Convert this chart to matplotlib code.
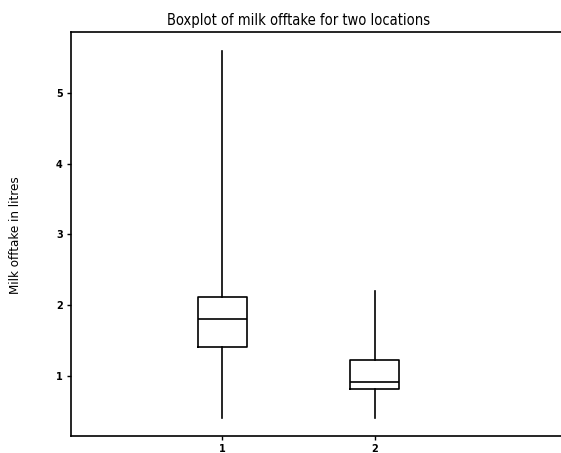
import matplotlib
matplotlib.use("Agg")
import matplotlib.pyplot as plt

locations = ["1", "2"]
whisker_low = [0.40, 0.40]
q1 = [1.41, 0.82]
median = [1.81, 0.92]
q3 = [2.11, 1.23]
whisker_high = [5.60, 2.20]
y_ticks = [1, 2, 3, 4, 5]

fig = plt.figure(figsize=(5.61, 4.53), dpi=100)
ax = fig.add_axes([71/561, 1-436/453, 1-71/561, (436-32)/453])

stats = []
for i, lab in enumerate(locations):
    stats.append(dict(label=lab, whislo=whisker_low[i], q1=q1[i], med=median[i],
                      q3=q3[i], whishi=whisker_high[i], fliers=[]))

lw = 1.2
ax.bxp(stats, positions=[1, 2], widths=0.32, showcaps=False, showfliers=False,
       boxprops=dict(color="black", linewidth=lw),
       whiskerprops=dict(color="black", linewidth=lw),
       medianprops=dict(color="black", linewidth=lw))

ax.set_xlim(0.01, 3.22)
ax.set_ylim(0.152, 5.862)
ax.set_yticks(y_ticks)
ax.set_yticklabels([str(t) for t in y_ticks], fontsize=7, fontweight="bold")
ax.set_xticks([1, 2])
ax.set_xticklabels(locations, fontsize=7, fontweight="bold")
ax.tick_params(axis="both", length=3, width=1, direction="out", pad=3)
ax.spines["right"].set_visible(False)
for s in ["left", "top", "bottom"]:
    ax.spines[s].set_linewidth(1.2)

fig.text((165+433)/2/561, 1-20/453, "Boxplot of milk offtake for two locations",
         ha="center", va="center", fontsize=10.5, stretch="condensed")
fig.text(16/561, 1-235/453, "Milk offtake in litres", rotation=90,
         ha="center", va="center", fontsize=9.5, stretch="condensed")

fig.savefig("out.png", dpi=100)
